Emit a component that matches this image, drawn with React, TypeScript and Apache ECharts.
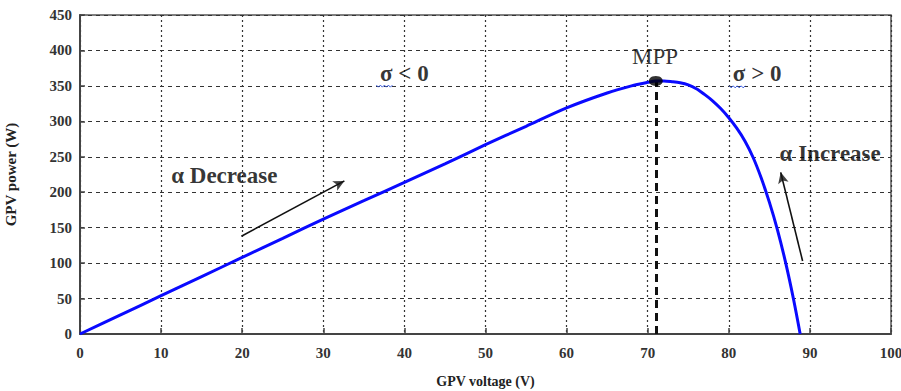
import React, { useEffect, useRef } from "react";
import * as echarts from "echarts";

const voltage = [0, 5, 10, 15, 20, 25, 30, 35, 40, 45, 50, 55, 60, 65, 68, 70, 71, 72, 73, 74, 75, 76, 77, 78, 79, 80, 81, 82, 83, 84, 85, 86, 87, 88, 88.8];
const power = [0, 27, 54, 81, 108, 135, 162, 188, 214, 240, 267, 293, 319, 340, 350, 355, 357, 357, 356, 354.5, 351.5, 346, 338, 329, 318, 305, 290, 272, 249, 220, 186, 147, 101, 48, 0];

const mpp = [71, 357];
const arrowDecrease = [[19.9, 138], [32.6, 216]];
const arrowIncrease = [[89.1, 103], [86.4, 228]];
const annotations = [
  { text: "σ < 0", x: 40, y: 368, size: 23, weight: "bold" },
  { text: "σ > 0", x: 83.5, y: 367, size: 23, weight: "bold" },
  { text: "MPP", x: 70.9, y: 391, size: 23, weight: "normal" },
  { text: "α Decrease", x: 17.8, y: 223, size: 23, weight: "bold" },
  { text: "α Increase", x: 92.5, y: 254, size: 23, weight: "bold" },
];

const FONT = "Liberation Serif";

export default function App() {
  const ref = useRef<HTMLDivElement>(null);
  useEffect(() => {
    const chart = echarts.init(ref.current!, null, { renderer: "svg" });
    const curve = voltage.map((v, i) => [v, power[i]]);
    chart.setOption({
      animation: false,
      backgroundColor: "#fff",
      grid: {
        left: 80,
        right: 10,
        top: 15,
        bottom: 57,
        show: true,
        borderColor: "#555",
        borderWidth: 1.5,
        outerBoundsMode: "none",
        containLabel: false,
      },
      xAxis: {
        type: "value",
        min: 0,
        max: 100,
        interval: 10,
        name: "GPV voltage (V)",
        nameLocation: "middle",
        nameGap: 40,
        nameTextStyle: { fontFamily: FONT, fontWeight: "bold", fontSize: 14, color: "#222" },
        axisLine: { lineStyle: { color: "#444", width: 2 } },
        axisTick: { inside: true, length: 6, lineStyle: { color: "#444", width: 1.5 } },
        axisLabel: { fontFamily: FONT, fontWeight: "bold", fontSize: 15, color: "#333", margin: 11 },
        splitLine: { show: true, lineStyle: { color: "#333", type: [2, 3], width: 1.2 } },
      },
      yAxis: {
        type: "value",
        min: 0,
        max: 450,
        interval: 50,
        name: "GPV power (W)",
        nameLocation: "middle",
        nameGap: 62,
        nameTextStyle: { fontFamily: FONT, fontWeight: "bold", fontSize: 15, color: "#222" },
        axisLine: { show: true, lineStyle: { color: "#444", width: 2 } },
        axisTick: { show: true, inside: true, length: 5, lineStyle: { color: "#444", width: 1.5 } },
        axisLabel: { fontFamily: FONT, fontWeight: "bold", fontSize: 15, color: "#333", margin: 8 },
        splitLine: { show: true, lineStyle: { color: "#333", type: [4, 4], width: 1.2 } },
      },
      series: [
        {
          type: "line",
          data: curve,
          showSymbol: false,
          smooth: 0.3,
          lineStyle: { color: "#0a0aff", width: 3 },
          z: 5,
          markLine: {
            silent: true,
            symbol: ["none", "none"],
            label: { show: false },
            lineStyle: { color: "#111", width: 3, type: [8, 5] },
            data: [[{ coord: [mpp[0], 0] }, { coord: [mpp[0], mpp[1]] }]],
          },
        },
        {
          type: "line",
          data: arrowDecrease,
          showSymbol: false,
          symbol: "none",
          lineStyle: { color: "#111", width: 1.6 },
        },
        {
          type: "line",
          data: arrowIncrease,
          showSymbol: false,
          symbol: "none",
          lineStyle: { color: "#111", width: 1.6 },
        },
        {
          type: "scatter",
          symbol: "arrow",
          symbolSize: [8, 11],
          symbolRotate: -62,
          data: [arrowDecrease[1]],
          itemStyle: { color: "#111" },
          z: 6,
        },
        {
          type: "scatter",
          symbol: "arrow",
          symbolSize: [8, 11],
          symbolRotate: 14,
          data: [arrowIncrease[1]],
          itemStyle: { color: "#111" },
          z: 6,
        },
        {
          type: "scatter",
          data: [mpp],
          symbol: "circle",
          symbolSize: [14, 10],
          itemStyle: { color: "#000" },
          z: 7,
        },
        {
          type: "scatter",
          data: annotations.map((a) => ({
            value: [a.x, a.y],
            label: {
              show: true,
              position: "inside",
              formatter: a.text,
              fontFamily: FONT,
              fontSize: a.size,
              fontWeight: a.weight,
              color: "#000",
            },
          })),
          symbolSize: 0,
          z: 8,
        },
      ],
    });
    // blue wavy spell-check underline beneath each σ
    const squiggles = annotations
      .filter((a) => a.text.startsWith("σ"))
      .map((a) => {
        const [cx, cy] = chart.convertToPixel({ gridIndex: 0 }, [a.x, a.y]) as number[];
        const x0 = cx - 28;
        const y0 = cy + 12;
        const pts: number[][] = [];
        for (let i = 0; i <= 8; i++) pts.push([x0 + i * 2, y0 + (i % 2 === 0 ? 0 : 2)]);
        return {
          type: "polyline",
          shape: { points: pts },
          style: { stroke: "#3355dd", lineWidth: 1, fill: "none" },
          z: 20,
        };
      });
    chart.setOption({ graphic: squiggles });
    return () => chart.dispose();
  }, []);
  return <div ref={ref} style={{ position: "absolute", left: 0, top: 0, width: 901, height: 391 }} />;
}
